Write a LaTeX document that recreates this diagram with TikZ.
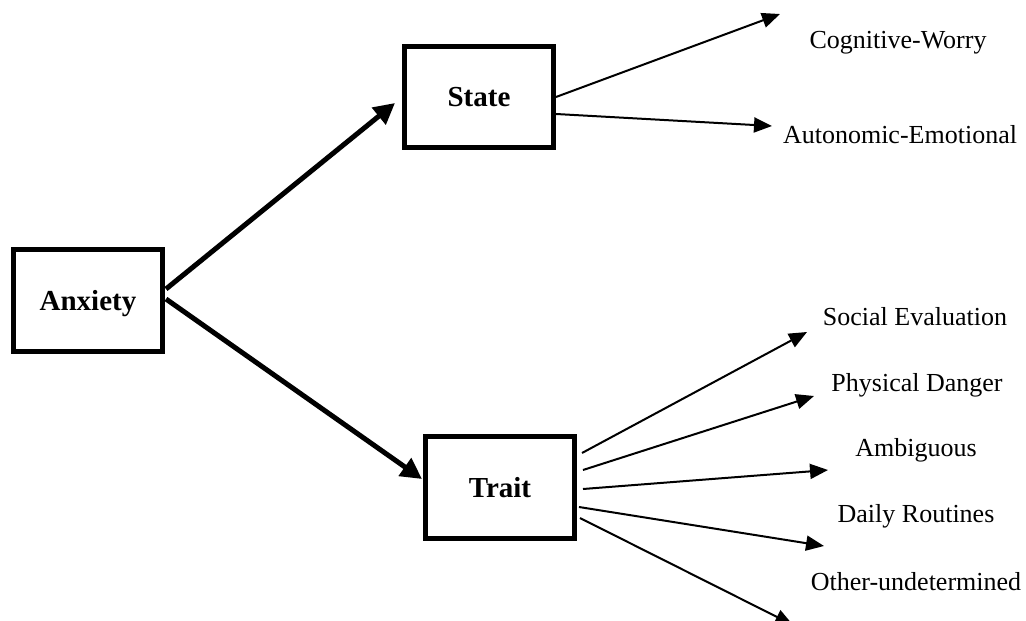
\documentclass[tikz,border=0pt]{standalone}
\usepackage{fontspec}
\setmainfont{Liberation Serif}
\usetikzlibrary{arrows.meta}
\usetikzlibrary{calc}

\begin{document}
\begin{tikzpicture}[x=0.02cm,y=-0.02cm]
      \tikzstyle{box}=[draw,line width=0.1cm,minimum width=2.98cm,minimum height=2.04cm,inner sep=0pt,text height=10.9pt,text depth=0pt,font=\fontsize{16.5}{18}\selectfont\bfseries]
      \tikzstyle{lbl}=[inner sep=0pt,text height=9.8pt,text depth=0pt,font=\fontsize{14.8}{17}\selectfont]
      \tikzstyle{main}=[line width=0.1cm,-{Triangle[length=0.42cm,width=0.42cm]}]
      \tikzstyle{leaf}=[line width=0.04cm,-{Triangle[length=0.36cm,width=0.3cm]}]
      \useasboundingbox (0,0) rectangle (1026,621);

      \node[box] (anx)   at (88,300.5) {Anxiety};
      \node[box] (state) at (479,97)   {State};
      \node[box] (trait) at (500,487.5) {Trait};

      \node[lbl] (cw) at (898,40)  {Cognitive-Worry};
      \node[lbl] (ae) at (900,135) {Autonomic-Emotional};
      \node[lbl] (se) at (915,317) {Social Evaluation};
      \node[lbl] (pd) at (917,383) {Physical Danger};
      \node[lbl] (am) at (916,448) {Ambiguous};
      \node[lbl] (dr) at (916,514) {Daily Routines};
      \node[lbl] (ot) at (916,582) {Other-undetermined};

      % free ends of the arrows
      \coordinate (cwTip) at (780,14);
      \coordinate (aeTip) at (772,126);
      \coordinate (seTip) at (807,332);
      \coordinate (pdTip) at (814,396);
      \coordinate (amTip) at (828,470);
      \coordinate (drTip) at (824,546);
      \coordinate (otTip) at (793,625);

      \draw[main] ($(anx.east)+(1,-11.5)$) -- ($(state.west)+(-7,6)$);
      \draw[main] ($(anx.east)+(1,-1.5)$)  -- ($(trait.west)+(-1,-8.5)$);

      \draw[leaf] (state.east)               -- (cwTip);
      \draw[leaf] ($(state.east)+(0,17)$)     -- (aeTip);

      \draw[leaf] ($(trait.east)+(5,-34.5)$) -- (seTip);
      \draw[leaf] ($(trait.east)+(6,-17.5)$) -- (pdTip);
      \draw[leaf] ($(trait.east)+(6,1.5)$)   -- (amTip);
      \draw[leaf] ($(trait.east)+(2,19.5)$)  -- (drTip);
      \draw[leaf] ($(trait.east)+(3,30.5)$)  -- (otTip);
\end{tikzpicture}
\end{document}
